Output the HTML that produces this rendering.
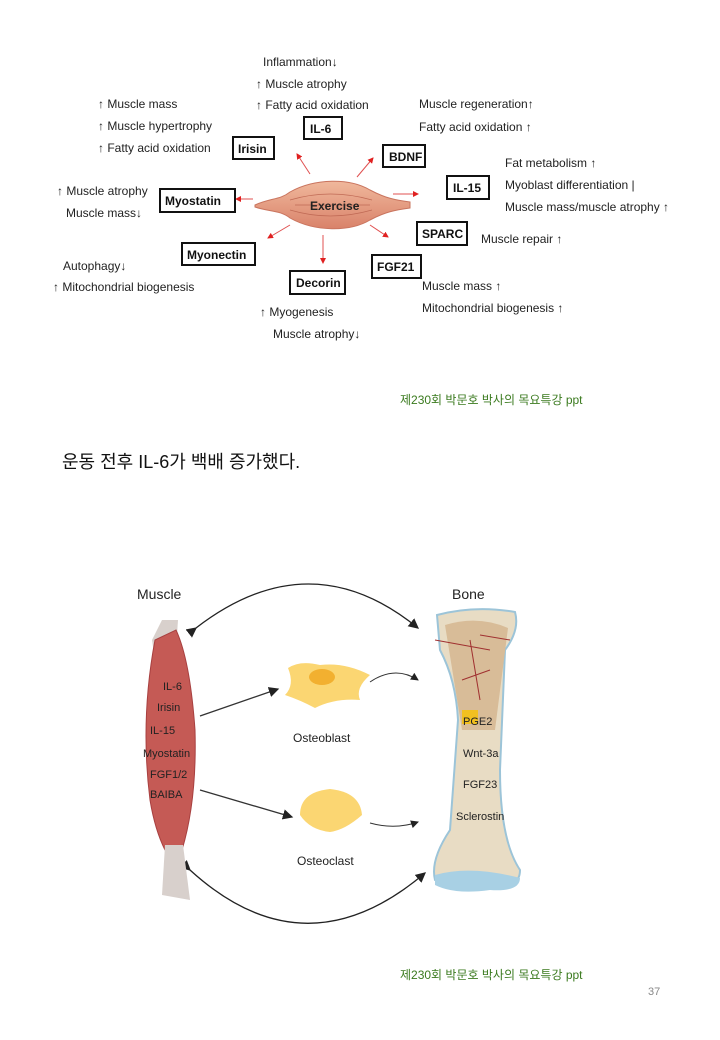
<!DOCTYPE html>
<html><head><meta charset="utf-8"><style>
html,body{margin:0;padding:0;background:#fff}
svg{display:block}
text{font-family:"Liberation Sans","Noto Sans CJK KR",sans-serif}
</style></head><body>
<svg width="720" height="1040" viewBox="0 0 720 1040" xmlns="http://www.w3.org/2000/svg">
<defs>
<marker id="r" markerWidth="6" markerHeight="6" refX="5" refY="3" orient="auto"><path d="M0,0L6,3L0,6z" fill="#e02020"/></marker>
<marker id="k" markerWidth="8" markerHeight="8" refX="7" refY="4" orient="auto"><path d="M0,0L8,4L0,8z" fill="#222"/></marker>
<linearGradient id="mg" x1="0" y1="0" x2="0" y2="1"><stop offset="0" stop-color="#f0b89c"/><stop offset="1" stop-color="#d9826a"/></linearGradient>
</defs>
<path d="M255,205 C270,198 280,200 290,192 C315,178 350,178 370,190 C385,198 395,200 410,202 L410,208 C395,210 385,212 370,220 C350,232 315,232 290,218 C280,210 270,212 255,207z" fill="url(#mg)" stroke="#c9745e"/>
<path d="M290,200 Q330,188 372,200 M290,210 Q330,222 372,210 M295,205 L370,205" stroke="#c06a55" fill="none" stroke-width="0.7"/>
<text x="310" y="210" font-size="12" font-weight="bold" fill="#222">Exercise</text>
<g stroke="#e05050" stroke-width="1" fill="none" marker-end="url(#r)">
<line x1="310" y1="174" x2="297" y2="154"/>
<line x1="357" y1="177" x2="373" y2="158"/>
<line x1="393" y1="194" x2="418" y2="194"/>
<line x1="370" y1="225" x2="388" y2="237"/>
<line x1="323" y1="235" x2="323" y2="263"/>
<line x1="290" y1="225" x2="268" y2="238"/>
<line x1="253" y1="199" x2="236" y2="199"/>
</g>
<g fill="#fff" stroke="#111" stroke-width="2">
<rect x="304" y="117" width="38" height="22"/>
<rect x="233" y="137" width="41" height="22"/>
<rect x="383" y="145" width="42" height="22"/>
<rect x="447" y="176" width="42" height="23"/>
<rect x="160" y="189" width="75" height="23"/>
<rect x="417" y="222" width="50" height="23"/>
<rect x="182" y="243" width="73" height="22"/>
<rect x="372" y="255" width="49" height="23"/>
<rect x="290" y="271" width="55" height="23"/>
</g>
<g font-size="12" font-weight="bold" fill="#111">
<text x="310" y="133">IL-6</text>
<text x="238" y="153">Irisin</text>
<text x="389" y="161">BDNF</text>
<text x="453" y="192">IL-15</text>
<text x="165" y="205">Myostatin</text>
<text x="422" y="238">SPARC</text>
<text x="187" y="259">Myonectin</text>
<text x="377" y="271">FGF21</text>
<text x="296" y="287">Decorin</text>
</g>
<g font-size="12" fill="#222">
<text x="263" y="66">Inflammation↓</text>
<text x="256" y="88">↑ Muscle atrophy</text>
<text x="256" y="109">↑ Fatty acid oxidation</text>
<text x="98" y="108">↑ Muscle mass</text>
<text x="98" y="130">↑ Muscle hypertrophy</text>
<text x="98" y="152">↑ Fatty acid oxidation</text>
<text x="57" y="195">↑ Muscle atrophy</text>
<text x="66" y="217">Muscle mass↓</text>
<text x="63" y="270">Autophagy↓</text>
<text x="53" y="291">↑ Mitochondrial biogenesis</text>
<text x="419" y="108">Muscle regeneration↑</text>
<text x="419" y="131">Fatty acid oxidation  ↑</text>
<text x="505" y="167">Fat metabolism ↑</text>
<text x="505" y="189">Myoblast differentiation |</text>
<text x="505" y="211">Muscle mass/muscle atrophy  ↑</text>
<text x="481" y="243">Muscle repair  ↑</text>
<text x="422" y="290">Muscle mass  ↑</text>
<text x="422" y="312">Mitochondrial biogenesis  ↑</text>
<text x="260" y="316">↑  Myogenesis</text>
<text x="273" y="338">Muscle atrophy↓</text>
</g>
<text x="400" y="404" font-size="12" fill="#3a7a1e">제230회 박문호 박사의 목요특강 ppt</text>
<text x="62" y="468" font-size="18" fill="#111">운동 전후 IL-6가 백배 증가했다.</text>
<text x="137" y="599" font-size="14" fill="#222">Muscle</text>
<text x="452" y="599" font-size="14" fill="#222">Bone</text>
<path d="M196,628 Q310,540 418,628" fill="none" stroke="#222" stroke-width="1.3" marker-start="url(#k)" marker-end="url(#k)"/>
<path d="M190,870 Q305,975 425,873" fill="none" stroke="#222" stroke-width="1.3" marker-start="url(#k)" marker-end="url(#k)"/>
<path d="M162,620 L178,620 L176,650 L155,660 L152,640z" fill="#d8d0cc"/>
<path d="M155,640 Q140,720 150,800 Q155,830 165,850 L182,850 Q197,800 195,730 Q190,660 176,630z" fill="#c55a55" stroke="#a84040"/>
<path d="M165,845 L162,895 L190,900 L183,845z" fill="#d8d0cc"/>
<g font-size="11" fill="#222">
<text x="163" y="690">IL-6</text>
<text x="157" y="711">Irisin</text>
<text x="150" y="734">IL-15</text>
<text x="143" y="757">Myostatin</text>
<text x="150" y="778">FGF1/2</text>
<text x="150" y="798">BAIBA</text>
</g>
<line x1="200" y1="716" x2="278" y2="689" stroke="#333" stroke-width="1.3" marker-end="url(#k)"/>
<line x1="200" y1="790" x2="292" y2="817" stroke="#333" stroke-width="1.3" marker-end="url(#k)"/>
<path d="M288,668 Q300,660 320,665 Q345,662 370,675 Q355,688 360,700 Q335,698 315,708 Q300,700 285,695 Q295,685 288,668z" fill="#fbd672"/>
<ellipse cx="322" cy="677" rx="13" ry="8" fill="#f2b030"/>
<path d="M300,815 Q300,792 330,789 Q360,792 362,815 Q345,830 330,832 Q310,830 300,815z" fill="#fbd672"/>
<text x="293" y="742" font-size="12" fill="#222">Osteoblast</text>
<text x="297" y="865" font-size="12" fill="#222">Osteoclast</text>
<path d="M370,682 Q395,665 418,680" fill="none" stroke="#333" marker-end="url(#k)"/>
<path d="M370,823 Q395,830 418,822" fill="none" stroke="#333" marker-end="url(#k)"/>
<path d="M437,615 Q475,605 515,612 Q520,630 505,650 L500,770 Q500,840 520,870 Q520,890 490,885 Q460,890 435,880 Q430,860 450,830 L458,720 Q456,680 440,650z" fill="#e8dcc4" stroke="#9cc4d8" stroke-width="2"/>
<path d="M445,625 Q478,615 508,628 L495,730 L462,730z" fill="#d8bc98"/>
<path d="M435,640 L490,650 M470,640 L480,700 M462,680 L490,670 M480,635 L510,640" stroke="#a03030" fill="none"/>
<rect x="462" y="710" width="16" height="14" fill="#f2c020"/>
<path d="M435,875 Q470,865 520,878 Q520,892 490,890 Q455,895 435,885z" fill="#a8d0e4"/>
<g font-size="11" fill="#222">
<text x="463" y="725">PGE2</text>
<text x="463" y="757">Wnt-3a</text>
<text x="463" y="788">FGF23</text>
<text x="456" y="820">Sclerostin</text>
</g>
<text x="400" y="979" font-size="12" fill="#3a7a1e">제230회 박문호 박사의 목요특강 ppt</text>
<text x="648" y="995" font-size="11" fill="#888">37</text>
</svg>
</body></html>
